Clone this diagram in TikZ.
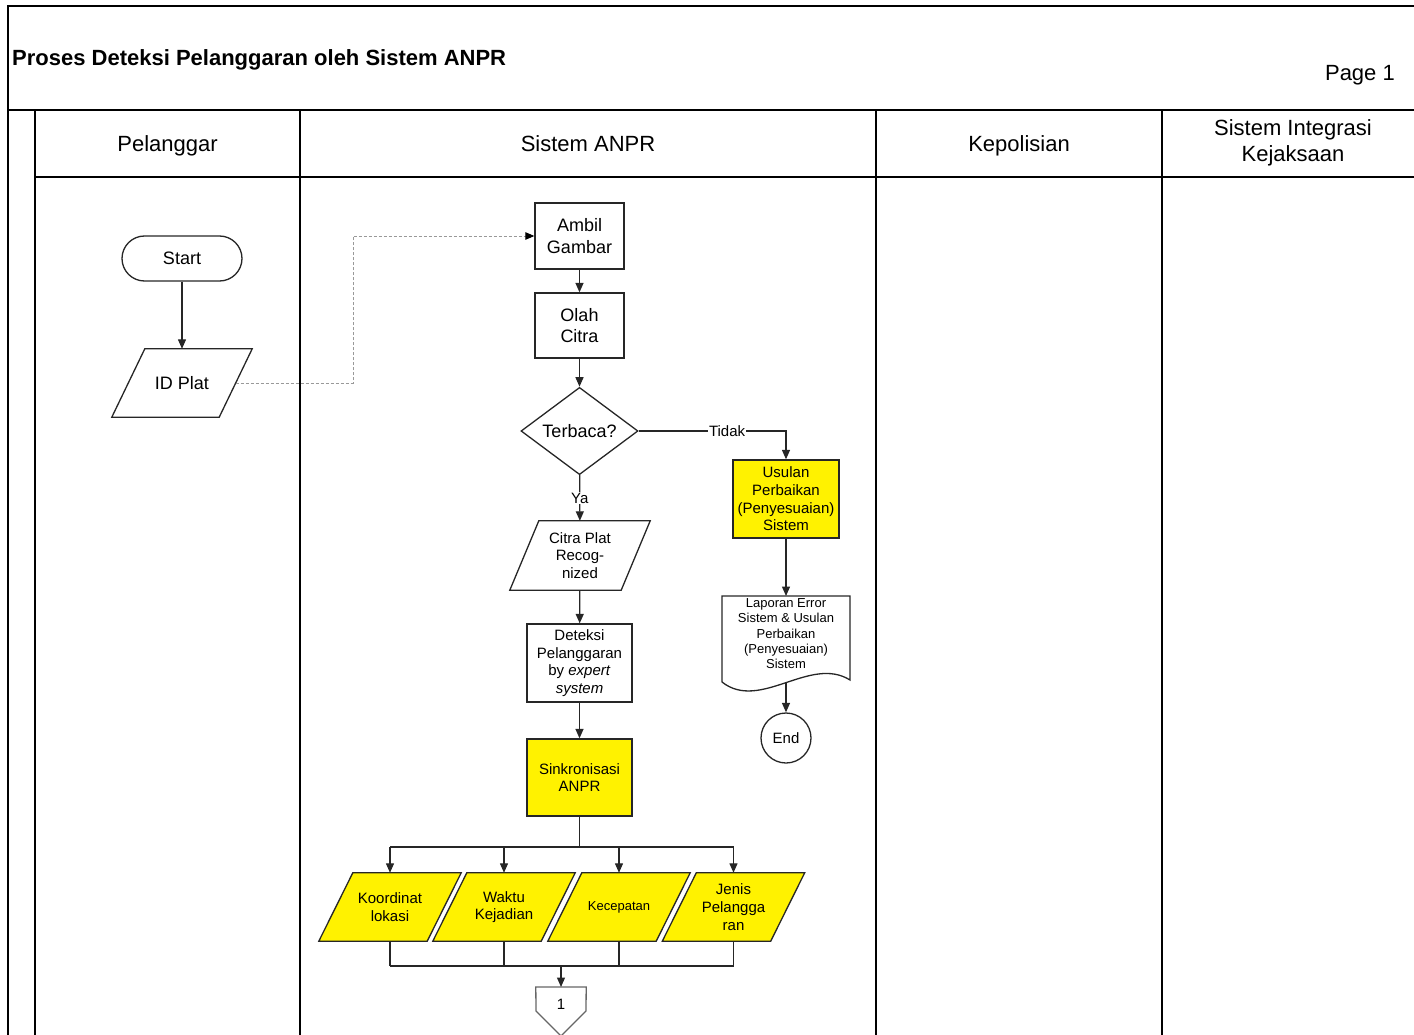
\documentclass[tikz,border=0pt]{standalone}
\usepackage{fontspec}
\setmainfont{Liberation Sans}
\usetikzlibrary{arrows.meta,shapes.geometric,calc,backgrounds}

% outline of a slanted (parallelogram) box around a named node
\newcommand\slantframe[3][]{%
  \draw[shapeline,#1]
    ($(#2.north west)+(#3/2,0)$) -- ($(#2.north east)+(#3/2,0)$) --
    ($(#2.south east)-(#3/2,0)$) -- ($(#2.south west)-(#3/2,0)$) -- cycle;}

\begin{document}
\begin{tikzpicture}[x=1pt,y=-1pt,
  every node/.style={inner sep=0pt, align=center, text=black},
  frameline/.style={line width=1.8pt, draw=black},
  shapeline/.style={line width=1.3pt, draw=black!85},
  big/.style={font=\fontsize{22}{26.5}\selectfont},
  mid/.style={font=\fontsize{18}{21.8}\selectfont},
  small/.style={font=\fontsize{15}{17.7}\selectfont},
  tiny/.style={font=\fontsize{13}{15.2}\selectfont},
  procbox/.style={shapeline, draw},
  arr/.style={line width=1.3pt, draw=black!85, -{Triangle[length=9.5pt,width=8pt]}},
  link/.style={line width=1.3pt, draw=black!85},
  dashlink/.style={line width=0.9pt, draw=black!40, dash pattern=on 3pt off 2pt,
    -{Triangle[length=9pt,width=7.5pt,color=black]}},
  lbl/.style={small, fill=white, inner sep=1pt},
]
\clip (0,0) rectangle (1414,1035);

% ---------- page frame and swimlanes ----------
\draw[frameline] (8,1040) -- (8,6) -- (1420,6);
\draw[line width=2.8pt] (8,110) -- (1420,110);
\draw[frameline] (35,110) -- (35,1040);
\draw[frameline] (35,177) -- (1420,177);
\foreach \x in {300,876,1162} \draw[frameline] (\x,110) -- (\x,1040);

\node[font=\bfseries\fontsize{22}{26}\selectfont, anchor=base west] (title) at (12,65.5)
  {Proses Deteksi Pelanggaran oleh Sistem ANPR};
\node[big, anchor=base east] (page) at (1395,80.5) {Page 1};

\node[big, anchor=base] (hPel) at (167.5,151.5) {Pelanggar};
\node[big, anchor=base] (hAnpr) at (588,151.5) {Sistem ANPR};
\node[big, anchor=base] (hPol) at (1019,151.5) {Kepolisian};
\node[big] (hJak) at (1293,143) {Sistem Integrasi\\Kejaksaan};

% ---------- Pelanggar ----------
\node[mid, procbox, rounded corners=22.5pt, minimum width=120pt, minimum height=45pt]
  (start) at (182,258.5) {Start};
\node[mid, minimum width=107pt, minimum height=68pt] (idplat) at (182,383) {ID Plat};
\slantframe{idplat}{33}

% ---------- Sistem ANPR ----------
\node[mid, procbox, minimum width=89pt, minimum height=66pt] (ambil) at (579.5,236) {Ambil\\Gambar};
\node[mid, procbox, minimum width=89pt, minimum height=65pt] (olah) at (579.5,325.5) {Olah\\Citra};
\node[mid, procbox, diamond, minimum width=117pt, minimum height=87pt] (terbaca) at (579.5,431) {Terbaca?};
\node[small, minimum width=111pt, minimum height=69pt] (citra) at (580,555.5) {Citra Plat\\Recog-\\nized};
\slantframe{citra}{29}
\node[small, procbox, minimum width=105pt, minimum height=78pt] (deteksi) at (579.5,663)
  {Deteksi\\Pelanggaran\\by \textit{expert}\\\textit{system}};
\node[small, procbox, fill=yellow, minimum width=105pt, minimum height=77pt] (sinkron) at (579.5,777.5)
  {Sinkronisasi\\ANPR};

\node[small, procbox, fill=yellow, minimum width=106pt, minimum height=78pt] (usulan) at (786,499)
  {Usulan\\Perbaikan\\(Penyesuaian)\\Sistem};
\node[tiny, anchor=north, inner ysep=2.5pt] (laporan) at (786,596)
  {Laporan Error\\Sistem \& Usulan\\Perbaikan\\(Penyesuaian)\\Sistem};
\draw[shapeline] (722,682) -- (722,596) -- (850,596) -- (850,680)
  .. controls (810,655) and (760,712) .. (722,682);
\coordinate (lapb) at (786,683);
\node[small, procbox, circle, minimum size=50pt] (end) at (786,738) {End};

% output data
\node[small, minimum width=108pt, minimum height=68pt] (koord) at (390,907) {Koordinat\\lokasi};
\node[small, minimum width=108pt, minimum height=68pt] (waktu) at (504,907) {Waktu\\Kejadian};
\node[tiny, minimum width=108pt, minimum height=68pt] (kecep) at (619,907) {Kecepatan};
\node[small, minimum width=108pt, minimum height=68pt] (jenis) at (733.5,907) {Jenis\\Pelangga\\ran};
\begin{pgfonlayer}{background}
  \foreach \n in {koord,waktu,kecep,jenis} {\slantframe[fill=yellow]{\n}{34}}
\end{pgfonlayer}

% off-page connector
\node[small, minimum width=50pt, minimum height=34pt, anchor=north] (off) at (561,987) {1};
\draw[line width=1.3pt, draw=black!60] (off.north west) -- (off.north east) -- (586,1011)
  -- (561,1036) -- (536,1011) -- cycle;

% ---------- connectors ----------
\draw[arr] (start) -- (idplat);
\coordinate (bend) at (353,300);
\draw[dashlink] (idplat.east) -- (idplat.east -| bend) |- (ambil.west);

\draw[arr] (ambil) -- (olah);
\draw[arr] (olah) -- (terbaca);
\draw[arr] (terbaca) -- node[lbl] {Ya} (citra);
\draw[arr] (terbaca.east) -| node[lbl, pos=0.3] {Tidak} (usulan.north);
\draw[arr] (citra) -- (deteksi);
\draw[arr] (deteksi) -- (sinkron);
\draw[arr] (usulan) -- (laporan);
\draw[arr] (lapb) -- (end);

\coordinate (fan) at (579.5,847);
\draw[link] (sinkron) -- (fan);
\draw[link] (koord.north |- fan) -- (jenis.north |- fan);
\foreach \n in {koord,waktu,kecep,jenis} \draw[arr] (\n.north |- fan) -- (\n.north);

\coordinate (join) at (561,966);
\foreach \n in {koord,waktu,kecep,jenis} \draw[link] (\n.south) -- (\n.south |- join);
\draw[link] (koord.south |- join) -- (jenis.south |- join);
\draw[arr] (join) -- (off.north);
\end{tikzpicture}
\end{document}
